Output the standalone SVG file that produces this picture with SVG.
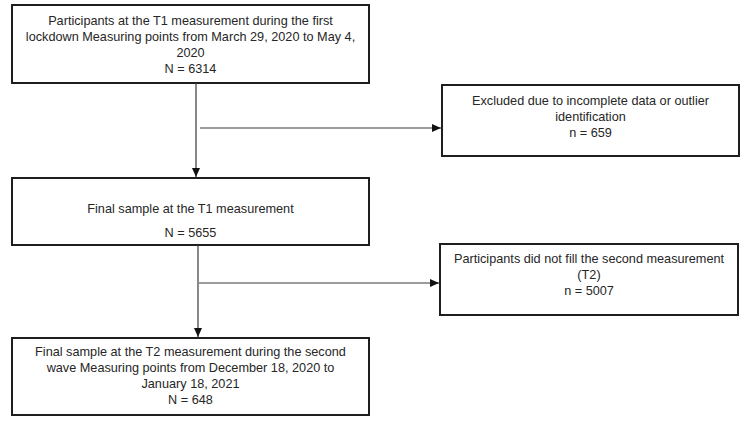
<svg xmlns="http://www.w3.org/2000/svg" width="750" height="425" viewBox="0 0 750 425">
<defs>
<style>
.box{fill:#fff;stroke:#1e1e1e;stroke-width:2}
.t{font-family:"Liberation Sans",Arial,sans-serif;font-size:12.7px;fill:#262626;text-anchor:middle}
.c{stroke:#3a3a3a;stroke-width:1.2;fill:none}
</style>
<marker id="ah" markerWidth="10" markerHeight="10" refX="9" refY="5" orient="auto" markerUnits="userSpaceOnUse">
<path d="M0,1 L9,5 L0,9 Z" fill="#111"/>
</marker>
</defs>
<rect width="750" height="425" fill="#fff"/>
<g id="n1">
<rect class="box" x="12" y="5" width="357" height="78"/>
<text class="t" x="190.5" y="24.5">Participants at the T1 measurement during the first</text>
<text class="t" x="190.5" y="40.5">lockdown Measuring points from March 29, 2020 to May 4,</text>
<text class="t" x="190.5" y="56.5">2020</text>
<text class="t" x="190.5" y="72.5">N = 6314</text>
</g>
<g id="n2">
<rect class="box" x="442" y="85" width="297" height="71"/>
<text class="t" x="590.5" y="105">Excluded due to incomplete data or outlier</text>
<text class="t" x="590.5" y="121">identification</text>
<text class="t" x="590.5" y="137">n = 659</text>
</g>
<g id="n3">
<rect class="box" x="12" y="178" width="357" height="67"/>
<text class="t" x="190.5" y="213">Final sample at the T1 measurement</text>
<text class="t" x="190.5" y="237">N = 5655</text>
</g>
<g id="n4">
<rect class="box" x="440" y="244" width="298" height="71"/>
<text class="t" x="589" y="263">Participants did not fill the second measurement</text>
<text class="t" x="589" y="279">(T2)</text>
<text class="t" x="589" y="295">n = 5007</text>
</g>
<g id="n5">
<rect class="box" x="12" y="338" width="357" height="77"/>
<text class="t" x="190.5" y="356">Final sample at the T2 measurement during the second</text>
<text class="t" x="190.5" y="372">wave Measuring points from December 18, 2020 to</text>
<text class="t" x="190.5" y="388">January 18, 2021</text>
<text class="t" x="190.5" y="404">N = 648</text>
</g>
<g id="connectors">
<line class="c" x1="196" y1="83" x2="196" y2="177" marker-end="url(#ah)"/>
<line class="c" x1="200" y1="128" x2="441" y2="128" marker-end="url(#ah)"/>
<line class="c" x1="198" y1="245" x2="198" y2="337" marker-end="url(#ah)"/>
<line class="c" x1="199" y1="283" x2="439" y2="283" marker-end="url(#ah)"/>
</g>
</svg>
